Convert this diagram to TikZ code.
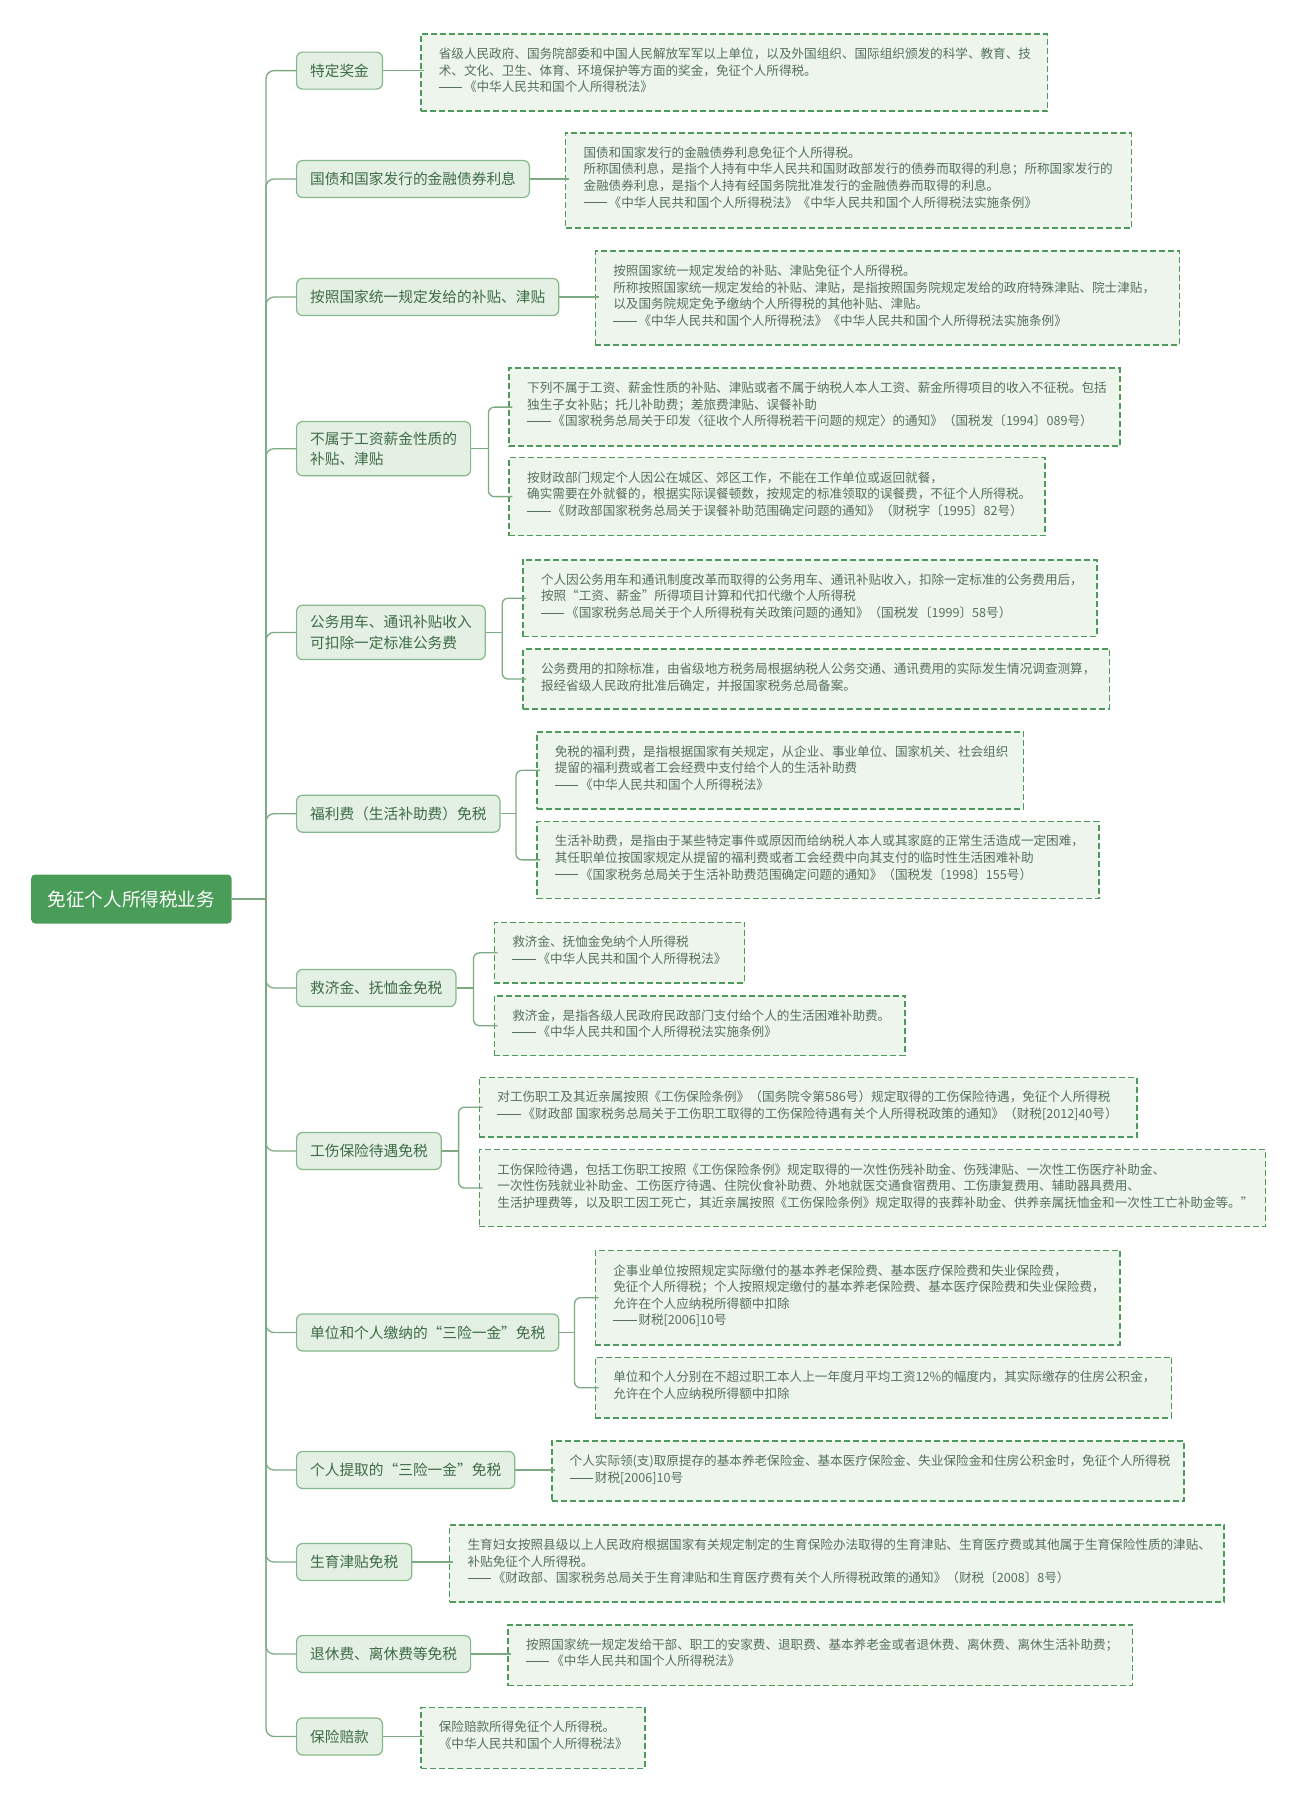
\documentclass[tikz,border=0pt]{standalone}
\usepackage{fontspec}
\setmainfont{Noto Sans CJK SC}
\usetikzlibrary{calc}
\definecolor{rootfill}{HTML}{4A9D58}
\definecolor{lonefill}{HTML}{E3F0E3}
\definecolor{loneborder}{HTML}{86B88C}
\definecolor{lonetext}{HTML}{3E6B47}
\definecolor{conncol}{HTML}{7DAA83}
\definecolor{dfill}{HTML}{EDF5ED}
\definecolor{dborder}{HTML}{4D9A5B}
\definecolor{dtext}{HTML}{56705B}
\newcommand\oq{\makebox[1em][r]{“}}
\newcommand\cq{\makebox[1em][l]{”}}
\newcommand\ddash{\makebox[2em][l]{\rule[0.32em]{1.85em}{0.7pt}}}
\newcommand\dbox[6]{%
  \node[detail] (#1) at (#2,#3) {\parbox[c][\dimexpr #5pt-#3pt\relax][t]{\dimexpr #4pt-#2pt-36pt\relax}{\rule{0pt}{24.5pt}#6}};}
\tikzset{
  conn/.style={draw=conncol, line width=1.3pt},
  rootbox/.style={fill=rootfill, text=white, rounded corners=4pt, font=\fontsize{18.6}{22}\selectfont, inner xsep=16.5pt, minimum height=49pt, anchor=west},
  lone/.style={draw=loneborder, fill=lonefill, line width=1.2pt, rounded corners=6pt, text=lonetext, font=\fontsize{14.7}{20.6}\selectfont, inner xsep=13.5pt, inner ysep=10pt, minimum height=37pt, anchor=west, align=left},
  detail/.style={draw=dborder, fill=dfill, line width=1.6pt, dash pattern=on 6pt off 3pt, text=dtext, font=\fontsize{12.6}{16.6}\selectfont, inner xsep=18pt, inner ysep=0pt, anchor=north west},
}
\begin{document}
\begin{tikzpicture}[x=1pt,y=-1pt]
\useasboundingbox[fill=white] (0,0) rectangle (1298,1800);
% root
\node[rootbox] (root) at (31,899) {免征个人所得税业务};
% level one
\node[lone] (n1) at (296,70.6) {特定奖金};
\node[lone] (n2) at (296,179) {国债和国家发行的金融债券利息};
\node[lone] (n3) at (296,297) {按照国家统一规定发给的补贴、津贴};
\node[lone] (n4) at (296,448.7) {不属于工资薪金性质的\\补贴、津贴};
\node[lone] (n5) at (296,632.4) {公务用车、通讯补贴收入\\可扣除一定标准公务费};
\node[lone] (n6) at (296,813.7) {福利费（生活补助费）免税};
\node[lone] (n7) at (296,988) {救济金、抚恤金免税};
\node[lone] (n8) at (296,1151) {工伤保险待遇免税};
\node[lone] (n9) at (296,1332.5) {单位和个人缴纳的\oq 三险一金\cq 免税};
\node[lone] (n10) at (296,1470) {个人提取的\oq 三险一金\cq 免税};
\node[lone] (n11) at (296,1562) {生育津贴免税};
\node[lone] (n12) at (296,1654) {退休费、离休费等免税};
\node[lone] (n13) at (296,1736.5) {保险赔款};
% details
\dbox{d1}{420}{33.3}{1046.7}{110.2}{省级人民政府、国务院部委和中国人民解放军军以上单位，以及外国组织、国际组织颁发的科学、教育、技\\术、文化、卫生、体育、环境保护等方面的奖金，免征个人所得税。\\\ddash《中华人民共和国个人所得税法》}
\dbox{d2}{564.7}{132}{1130.5}{227.2}{国债和国家发行的金融债券利息免征个人所得税。\\所称国债利息，是指个人持有中华人民共和国财政部发行的债券而取得的利息；所称国家发行的\\金融债券利息，是指个人持有经国务院批准发行的金融债券而取得的利息。\\\ddash《中华人民共和国个人所得税法》《中华人民共和国个人所得税法实施条例》}
\dbox{d3}{594.5}{250.2}{1178.7}{344.3}{按照国家统一规定发给的补贴、津贴免征个人所得税。\\所称按照国家统一规定发给的补贴、津贴，是指按照国务院规定发给的政府特殊津贴、院士津贴，\\以及国务院规定免予缴纳个人所得税的其他补贴、津贴。\\\ddash《中华人民共和国个人所得税法》《中华人民共和国个人所得税法实施条例》}
\dbox{d4a}{508.4}{367.3}{1119}{445.3}{下列不属于工资、薪金性质的补贴、津贴或者不属于纳税人本人工资、薪金所得项目的收入不征税。包括\\独生子女补贴；托儿补助费；差旅费津贴、误餐补助\\\ddash《国家税务总局关于印发〈征收个人所得税若干问题的规定〉的通知》（国税发〔1994〕089号）}
\dbox{d4b}{508.4}{456.8}{1044.4}{534.8}{按财政部门规定个人因公在城区、郊区工作，不能在工作单位或返回就餐，\\确实需要在外就餐的，根据实际误餐顿数，按规定的标准领取的误餐费，不征个人所得税。\\\ddash《财政部国家税务总局关于误餐补助范围确定问题的通知》（财税字〔1995〕82号）}
\dbox{d5a}{522.2}{559}{1096}{635.8}{个人因公务用车和通讯制度改革而取得的公务用车、通讯补贴收入，扣除一定标准的公务费用后，\\按照\oq 工资、薪金\cq 所得项目计算和代扣代缴个人所得税\\\ddash《国家税务总局关于个人所得税有关政策问题的通知》（国税发〔1999〕58号）}
\dbox{d5b}{522.2}{648.4}{1108.7}{708.1}{公务费用的扣除标准，由省级地方税务局根据纳税人公务交通、通讯费用的实际发生情况调查测算，\\报经省级人民政府批准后确定，并报国家税务总局备案。}
\dbox{d6a}{536}{731}{1022.6}{808}{免税的福利费，是指根据国家有关规定，从企业、事业单位、国家机关、社会组织\\提留的福利费或者工会经费中支付给个人的生活补助费\\\ddash《中华人民共和国个人所得税法》}
\dbox{d6b}{536}{820.6}{1098.3}{897.5}{生活补助费，是指由于某些特定事件或原因而给纳税人本人或其家庭的正常生活造成一定困难，\\其任职单位按国家规定从提留的福利费或者工会经费中向其支付的临时性生活困难补助\\\ddash《国家税务总局关于生活补助费范围确定问题的通知》（国税发〔1998〕155号）}
\dbox{d7a}{493.5}{921.6}{743.7}{982.4}{救济金、抚恤金免纳个人所得税\\\ddash《中华人民共和国个人所得税法》}
\dbox{d7b}{493.5}{995}{904.4}{1054.7}{救济金，是指各级人民政府民政部门支付给个人的生活困难补助费。\\\ddash《中华人民共和国个人所得税法实施条例》}
\dbox{d8a}{478.6}{1076.5}{1136.2}{1136.2}{对工伤职工及其近亲属按照《工伤保险条例》（国务院令第586号）规定取得的工伤保险待遇，免征个人所得税\\\ddash《财政部~国家税务总局关于工伤职工取得的工伤保险待遇有关个人所得税政策的通知》（财税[2012]40号）}
\dbox{d8b}{478.6}{1148.8}{1264.8}{1225.7}{工伤保险待遇，包括工伤职工按照《工伤保险条例》规定取得的一次性伤残补助金、伤残津贴、一次性工伤医疗补助金、\\一次性伤残就业补助金、工伤医疗待遇、住院伙食补助费、外地就医交通食宿费用、工伤康复费用、辅助器具费用、\\生活护理费等，以及职工因工死亡，其近亲属按照《工伤保险条例》规定取得的丧葬补助金、供养亲属抚恤金和一次性工亡补助金等。”}
\dbox{d9a}{594.5}{1249.8}{1119}{1344}{企事业单位按照规定实际缴付的基本养老保险费、基本医疗保险费和失业保险费，\\免征个人所得税；个人按照规定缴付的基本养老保险费、基本医疗保险费和失业保险费，\\允许在个人应纳税所得额中扣除\\\ddash 财税[2006]10号}
\dbox{d9b}{594.5}{1356.6}{1170.7}{1417.4}{单位和个人分别在不超过职工本人上一年度月平均工资12\%的幅度内，其实际缴存的住房公积金，\\允许在个人应纳税所得额中扣除}
\dbox{d10}{550.9}{1440.4}{1183.3}{1500}{个人实际领(支)取原提存的基本养老保险金、基本医疗保险金、失业保险金和住房公积金时，免征个人所得税\\\ddash 财税[2006]10号}
\dbox{d11}{448.8}{1524.1}{1223.4}{1601}{生育妇女按照县级以上人民政府根据国家有关规定制定的生育保险办法取得的生育津贴、生育医疗费或其他属于生育保险性质的津贴、\\补贴免征个人所得税。\\\ddash《财政部、国家税务总局关于生育津贴和生育医疗费有关个人所得税政策的通知》（财税〔2008〕8号）}
\dbox{d12}{507.3}{1624}{1131.6}{1684.8}{按照国家统一规定发给干部、职工的安家费、退职费、基本养老金或者退休费、离休费、离休生活补助费；\\\ddash《中华人民共和国个人所得税法》}
\dbox{d13}{420}{1706.6}{643.9}{1767.5}{保险赔款所得免征个人所得税。\\《中华人民共和国个人所得税法》}
% trunk connectors
\coordinate (tr) at (266,899);
\draw[conn] (root.east) -- (tr);
\foreach \n in {n1,n2,n3,n4,n5,n6,n7,n8,n9,n10,n11,n12,n13}
  \draw[conn, rounded corners=8pt] (tr) |- (\n.west);
% single detail connectors
\foreach \n/\d in {n1/d1,n2/d2,n3/d3,n10/d10,n11/d11,n12/d12,n13/d13}
  \draw[conn] (\n.east) -- ($(\n.east -| \d.west)+(4,0)$);
% bracket connectors
\foreach \n/\a/\b in {n4/d4a/d4b,n5/d5a/d5b,n6/d6a/d6b,n7/d7a/d7b,n8/d8a/d8b,n9/d9a/d9b}{
  \coordinate (br\n) at ($(\a.west |- \n.east)+(-20,0)$);
  \draw[conn] (\n.east) -- (br\n);
  \draw[conn, rounded corners=6pt] (br\n) |- ($(\a.west)+(4,0)$);
  \draw[conn, rounded corners=6pt] (br\n) |- ($(\b.west)+(4,0)$);
}
\end{tikzpicture}
\end{document}
